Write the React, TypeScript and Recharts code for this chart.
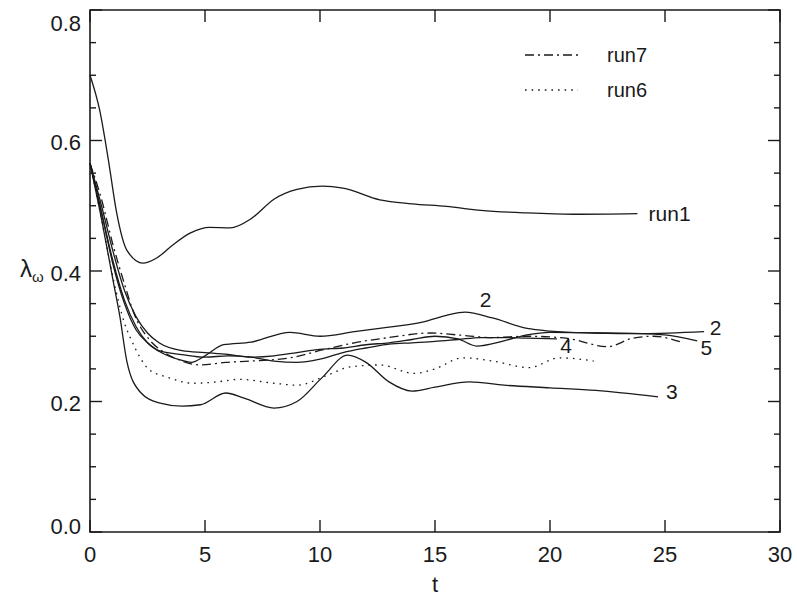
import { LineChart, Line, XAxis, YAxis, ReferenceArea, ReferenceDot } from 'recharts';

// [t, lambda] pairs
const run1: [number, number][] = [
  [0, 0.70], [0.43, 0.645], [0.8, 0.57], [1.16, 0.489], [1.6, 0.432], [2.3, 0.412], [2.9, 0.42],
  [3.6, 0.44], [4.35, 0.458], [5.2, 0.467], [6.1, 0.466], [7, 0.48], [8, 0.51], [9, 0.525],
  [10.1, 0.53], [11, 0.527], [12.6, 0.509], [14, 0.503], [15.5, 0.499], [17, 0.493], [19, 0.489],
  [21, 0.487], [23.8, 0.488],
];
const run2: [number, number][] = [
  [0, 0.565], [0.5, 0.49], [1, 0.415], [1.5, 0.355], [2, 0.315], [2.5, 0.29], [3, 0.277], [4, 0.263],
  [4.4, 0.26], [5, 0.27], [5.8, 0.287], [7, 0.291], [8.7, 0.306], [10, 0.3], [11.5, 0.307], [13, 0.314],
  [14.5, 0.322], [15.5, 0.332], [16.3, 0.337], [17.5, 0.328], [19, 0.312], [20, 0.308], [22, 0.305],
  [24, 0.304], [26.7, 0.307],
];
const run3: [number, number][] = [
  [0, 0.565], [0.5, 0.48], [1, 0.386], [1.3, 0.33], [1.6, 0.262], [2.17, 0.215], [3, 0.198], [4, 0.193],
  [4.8, 0.195], [5.9, 0.213], [6.7, 0.205], [8, 0.19], [9, 0.2], [10.1, 0.237], [11.2, 0.271], [12, 0.26],
  [13, 0.23], [14, 0.216], [15, 0.222], [16.5, 0.23], [18, 0.225], [20, 0.221], [22, 0.217], [24.7, 0.207],
];
const run4: [number, number][] = [
  [0, 0.565], [0.5, 0.49], [1, 0.41], [1.5, 0.35], [2, 0.31], [2.5, 0.29], [3, 0.278], [4, 0.272],
  [5, 0.268], [6, 0.27], [7, 0.268], [8, 0.262], [9, 0.26], [10, 0.265], [11, 0.275], [12, 0.282],
  [13, 0.288], [14, 0.29], [15, 0.292], [16, 0.295], [17, 0.298], [18, 0.298], [19, 0.297], [20.3, 0.296],
];
const run5: [number, number][] = [
  [0, 0.565], [0.5, 0.5], [1, 0.43], [1.5, 0.37], [2, 0.33], [2.5, 0.305], [3, 0.29], [4, 0.278],
  [5, 0.275], [6, 0.272], [7, 0.268], [8, 0.27], [9, 0.275], [10, 0.28], [11, 0.282], [12, 0.287],
  [13, 0.29], [14, 0.295], [15, 0.3], [16, 0.296], [16.8, 0.285], [18, 0.293], [19, 0.302], [20, 0.306],
  [22, 0.305], [24, 0.304], [25, 0.302], [26.4, 0.293],
];
const run6: [number, number][] = [
  [0, 0.565], [0.5, 0.48], [1, 0.39], [1.5, 0.32], [1.8, 0.294], [2.6, 0.248], [3.3, 0.238], [4.5, 0.228],
  [5.5, 0.23], [6.5, 0.234], [8, 0.228], [9, 0.225], [10.3, 0.24], [11.3, 0.253], [12.6, 0.256],
  [14.1, 0.243], [15, 0.25], [16.2, 0.267], [17.5, 0.262], [19.1, 0.252], [20.4, 0.267], [21.9, 0.262],
];
const run7: [number, number][] = [
  [0, 0.565], [0.5, 0.51], [1, 0.44], [1.5, 0.38], [1.9, 0.336], [2.6, 0.294], [3.2, 0.276], [4, 0.262],
  [4.8, 0.256], [5.9, 0.26], [7, 0.262], [8.7, 0.267], [10.1, 0.279], [11.5, 0.29], [13, 0.298],
  [14.8, 0.305], [16, 0.302], [17.5, 0.298], [19, 0.3], [20.7, 0.297], [22.5, 0.284], [23.6, 0.297],
  [24.5, 0.3], [25.8, 0.29],
];

const xTicks = [0, 5, 10, 15, 20, 25, 30];
const yTicks = Array.from({ length: 17 }, (_, i) => +(i * 0.05).toFixed(2));
const yMajor = [0, 0.2, 0.4, 0.6, 0.8];

// curve annotations: [t, lambda, text]
const curveLabels: [number, number, string][] = [
  [25.2, 0.488, 'run1'],
  [17.2, 0.356, '2'],
  [27.2, 0.314, '2'],
  [26.8, 0.283, '5'],
  [20.7, 0.285, '4'],
  [25.3, 0.215, '3'],
];

const series = [
  { name: 'run1', data: run1, dash: undefined },
  { name: 'run2', data: run2, dash: undefined },
  { name: 'run3', data: run3, dash: undefined },
  { name: 'run4', data: run4, dash: undefined },
  { name: 'run5', data: run5, dash: undefined },
  { name: 'run6', data: run6, dash: '1.6 5' },
  { name: 'run7', data: run7, dash: '9 4 2 4' },
];

const FONT = '"Liberation Sans", Arial, sans-serif';
const INK = '#1a1a1a';
const LEFT = 90;
const RIGHT = 780;
const TOP = 10;
const BOTTOM = 532;

function YTick(props: any) {
  const { x, y, payload } = props;
  const v = payload.value;
  const major = yMajor.some((m) => Math.abs(m - v) < 1e-6);
  const len = major ? 12 : 6;
  // the top and bottom labels sit inside the frame, as in the original
  const shift = v > 0.79 ? 13 : v < 0.01 ? -6 : 2;
  return (
    <g>
      <line x1={LEFT} x2={LEFT + len} y1={y} y2={y} stroke={INK} strokeWidth={1.4} />
      <line x1={RIGHT} x2={RIGHT - len} y1={y} y2={y} stroke={INK} strokeWidth={1.4} />
      {major && (
        <text x={x} y={y + shift} dy="0.36em" textAnchor="end" fontSize={22} fontFamily={FONT} fill={INK}>
          {v.toFixed(1)}
        </text>
      )}
    </g>
  );
}

function XTick(props: any) {
  const { x, y, payload } = props;
  return (
    <g>
      <line x1={x} x2={x} y1={BOTTOM} y2={BOTTOM - 12} stroke={INK} strokeWidth={1.4} />
      <line x1={x} x2={x} y1={TOP} y2={TOP + 12} stroke={INK} strokeWidth={1.4} />
      <text x={x} y={y} dy="0.71em" textAnchor="middle" fontSize={22} fontFamily={FONT} fill={INK}>
        {payload.value}
      </text>
    </g>
  );
}

export default function App() {
  return (
    <div style={{ position: 'absolute', left: 0, top: 0, width: 797, height: 602, background: '#fff' }}>
      <LineChart width={797} height={602} margin={{ top: TOP, right: 797 - RIGHT, bottom: 40, left: 30 }}>
        <XAxis
          type="number"
          dataKey="t"
          domain={[0, 30]}
          ticks={xTicks}
          tickSize={0}
          tickMargin={14}
          tickLine={false}
          axisLine={false}
          height={30}
          tick={<XTick />}
          label={{ value: 't', position: 'bottom', offset: 14, fontSize: 22, fontFamily: FONT, fill: INK }}
        />
        <YAxis
          type="number"
          domain={[0, 0.8]}
          ticks={yTicks}
          interval={0}
          tickSize={0}
          tickMargin={9}
          tickLine={false}
          axisLine={false}
          width={60}
          tick={<YTick />}
          label={{
            content: () => (
              <text x={20} y={277} fontSize={24} fontFamily={FONT} fill={INK}>
                λ<tspan fontSize={15} dy={5}>ω</tspan>
              </text>
            ),
          }}
        />
        <ReferenceArea x1={0} x2={30} y1={0} y2={0.8} fill="none" stroke={INK} strokeWidth={1.6} ifOverflow="visible" />
        {series.map((s) => (
          <Line
            key={s.name}
            data={s.data.map(([t, v]) => ({ t, v }))}
            dataKey="v"
            type="monotone"
            stroke={INK}
            strokeWidth={1.3}
            strokeDasharray={s.dash}
            dot={false}
            activeDot={false}
            isAnimationActive={false}
          />
        ))}
        {curveLabels.map(([t, v, txt], i) => (
          <ReferenceDot
            key={i}
            x={t}
            y={v}
            r={0}
            ifOverflow="visible"
            label={{ value: txt, position: 'center', fontSize: 21, fontFamily: FONT, fill: INK }}
          />
        ))}
      </LineChart>
      <svg width={180} height={70} style={{ position: 'absolute', left: 520, top: 35 }}>
        <line x1={5} x2={58} y1={20} y2={20} stroke={INK} strokeWidth={1.3} strokeDasharray="9 4 2 4" />
        <text x={87} y={27} fontSize={20} fontFamily={FONT} fill={INK}>run7</text>
        <line x1={5} x2={58} y1={55} y2={55} stroke={INK} strokeWidth={1.3} strokeDasharray="1.6 5" />
        <text x={87} y={62} fontSize={20} fontFamily={FONT} fill={INK}>run6</text>
      </svg>
    </div>
  );
}
